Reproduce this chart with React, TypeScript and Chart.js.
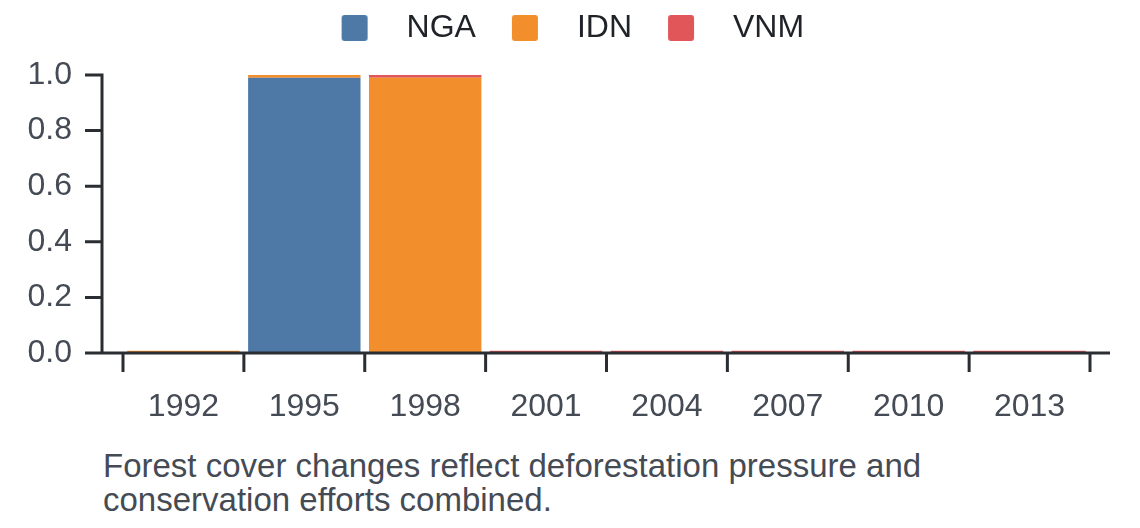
import React, { useEffect, useRef } from "react";
import { Chart, registerables } from "chart.js";

Chart.register(...registerables);

const years = ["1992", "1995", "1998", "2001", "2004", "2007", "2010", "2013"];
const ngaValues = [0, 0.99, 0, 0, 0, 0, 0, 0];
const idnValues = [0.008, 0.01, 0.99, 0, 0, 0, 0, 0];
const vnmValues = [0, 0, 0.01, 0.008, 0.008, 0.008, 0.008, 0.008];
const seriesNames = ["NGA", "IDN", "VNM"];
const seriesColors = ["#4e79a7", "#f28e2b", "#e15759"];
const yMin = 0;
const yMax = 1;
const yStep = 0.2;
const captionLines = [
  "Forest cover changes reflect deforestation pressure and",
  "conservation efforts combined.",
];

const FONT = "'Liberation Sans', Arial, Helvetica, sans-serif";
const AXIS_COLOR = "#2a2d32";
const TICK_TEXT = "#454b54";

function makeSwatch(color: string): HTMLCanvasElement {
  const c = document.createElement("canvas");
  c.width = 85;
  c.height = 26;
  const g = c.getContext("2d") as CanvasRenderingContext2D;
  g.fillStyle = color;
  g.beginPath();
  if ((g as any).roundRect) (g as any).roundRect(36, 0, 26, 26, 3);
  else g.rect(36, 0, 26, 26);
  g.fill();
  return c;
}

const axesPlugin = {
  id: "customAxes",
  afterDatasetsDraw(chart: any) {
    const { ctx, chartArea, scales } = chart;
    const xs = scales.x;
    const ys = scales.y;
    const axisX = chartArea.left - 21;
    const axisRight = chartArea.right + 20;
    const base = ys.getPixelForValue(yMin);
    const top = ys.getPixelForValue(yMax);
    ctx.save();
    ctx.strokeStyle = AXIS_COLOR;
    ctx.lineWidth = 3;
    ctx.lineCap = "butt";
    ctx.beginPath();
    ctx.moveTo(axisX, top - 1.5);
    ctx.lineTo(axisX, base + 1.5);
    ctx.moveTo(axisX - 1.5, base);
    ctx.lineTo(axisRight, base);
    ys.ticks.forEach((t: any) => {
      const py = ys.getPixelForValue(t.value);
      ctx.moveTo(axisX - 17, py);
      ctx.lineTo(axisX, py);
    });
    const n = xs.ticks.length;
    for (let i = 0; i <= n; i++) {
      const px = xs.getPixelForValue(i - 0.5);
      ctx.moveTo(px, base);
      ctx.lineTo(px, base + 19);
    }
    ctx.stroke();
    ctx.restore();
  },
};

export default function App() {
  const canvasRef = useRef<HTMLCanvasElement | null>(null);

  useEffect(() => {
    if (!canvasRef.current) return;
    Chart.defaults.font.family = FONT;
    const swatches = seriesColors.map((c) => makeSwatch(c));
    const values = [ngaValues, idnValues, vnmValues];
    const chart = new Chart(canvasRef.current, {
      type: "bar",
      data: {
        labels: years,
        datasets: seriesNames.map((name, i) => ({
          label: name,
          data: values[i],
          backgroundColor: seriesColors[i],
          borderWidth: 0,
          barPercentage: 0.93,
          categoryPercentage: 1.0,
        })),
      },
      plugins: [axesPlugin],
      options: {
        animation: false,
        responsive: false,
        devicePixelRatio: 1,
        events: [],
        layout: { padding: { left: 0, right: 30.3, top: 12, bottom: 0 } },
        plugins: {
          tooltip: { enabled: false },
          title: { display: false },
          legend: {
            display: true,
            position: "top",
            align: "center",
            labels: {
              font: { size: 32, family: FONT },
              color: "#1f2328",
              padding: 0,
              usePointStyle: true,
              pointStyleWidth: 85,
              boxHeight: 26,
              generateLabels: (ch: any) => {
                const items = (Chart.defaults.plugins.legend.labels.generateLabels as any)(ch);
                return items.map((it: any, i: number) => ({ ...it, pointStyle: swatches[i] }));
              },
            },
          },
        },
        scales: {
          x: {
            type: "category",
            stacked: true,
            offset: true,
            grid: { display: false, drawTicks: false },
            border: { display: false },
            ticks: {
              font: { size: 32, family: FONT },
              color: TICK_TEXT,
              padding: 35,
              maxRotation: 0,
              autoSkip: false,
            },
            afterFit: (s: any) => {
              s.height = 87;
            },
          },
          xTop: {
            type: "category",
            position: "top",
            display: true,
            grid: { display: false, drawTicks: false },
            border: { display: false },
            ticks: { display: false },
            afterFit: (s: any) => {
              s.height = 21;
            },
          },
          y: {
            type: "linear",
            stacked: true,
            min: yMin,
            max: yMax,
            grid: { display: false, drawTicks: false },
            border: { display: false },
            ticks: {
              stepSize: yStep,
              font: { size: 32, family: FONT },
              color: TICK_TEXT,
              padding: 51,
              callback: (v: any) => Number(v).toFixed(1),
            },
            afterFit: (s: any) => {
              s.width = 123;
            },
          },
          yRight: {
            type: "linear",
            position: "right",
            display: true,
            grid: { display: false, drawTicks: false },
            border: { display: false },
            ticks: { display: false },
            afterFit: (s: any) => {
              s.width = 19.7;
            },
          },
        },
      } as any,
    });
    return () => chart.destroy();
  }, []);

  return (
    <div
      style={{
        position: "absolute",
        left: 0,
        top: 0,
        width: 1140,
        height: 528,
        background: "#ffffff",
        overflow: "hidden",
      }}
    >
      <canvas ref={canvasRef} width={1140} height={440} style={{ display: "block", width: 1140, height: 440 }} />
      <div
        style={{
          position: "absolute",
          left: 103,
          top: 449,
          fontFamily: FONT,
          fontSize: 33,
          lineHeight: "34px",
          color: TICK_TEXT,
          whiteSpace: "nowrap",
        }}
      >
        {captionLines.map((l, i) => (
          <div key={i}>{l}</div>
        ))}
      </div>
    </div>
  );
}
